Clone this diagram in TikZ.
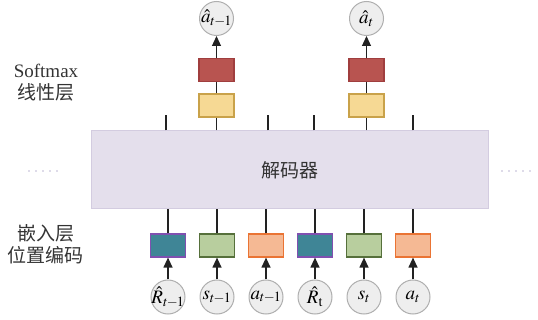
\documentclass[tikz,border=0pt]{standalone}
\usepackage{mathptmx}
\usepackage{fontspec}
\setmainfont{Liberation Serif}
\newfontfamily\cjk{Noto Sans CJK SC}
\usetikzlibrary{arrows.meta}

\definecolor{txt}{HTML}{333333}
\definecolor{decfill}{HTML}{E4DFEC}
\definecolor{decline}{HTML}{D3CCE0}
\definecolor{dotcol}{HTML}{BDB7D3}
\definecolor{circfill}{HTML}{EEEEEE}
\definecolor{circline}{HTML}{AFAFAF}
\definecolor{tealfill}{HTML}{3F8596}
\definecolor{tealline}{HTML}{8050B0}
\definecolor{greenfill}{HTML}{B8CE9E}
\definecolor{greenline}{HTML}{56703B}
\definecolor{orangefill}{HTML}{F5B994}
\definecolor{orangeline}{HTML}{EA7434}
\definecolor{redfill}{HTML}{B85450}
\definecolor{redline}{HTML}{A03E3E}
\definecolor{yellowfill}{HTML}{F6D994}
\definecolor{yellowline}{HTML}{C9A24A}
\definecolor{wire}{HTML}{222222}

% compact subscript for the previous step
\newcommand{\prevstep}{t\mkern-1mu-\mkern-1mu1}

\begin{document}
\begin{tikzpicture}[x=1pt,y=-1pt,
  tok/.style={circle,minimum size=34pt,inner sep=-4pt,fill=circfill,draw=circline,line width=1pt,
    font=\fontsize{19}{19}\selectfont},
  blk/.style={rectangle,minimum width=35pt,minimum height=23pt,inner sep=0pt,line width=1.2pt},
  emb/.style={blk,fill=tealfill,draw=tealline},
  stb/.style={blk,fill=greenfill,draw=greenline},
  act/.style={blk,fill=orangefill,draw=orangeline},
  smx/.style={blk,fill=redfill,draw=redline},
  lin/.style={blk,fill=yellowfill,draw=yellowline},
  side/.style={text=txt,font=\fontsize{19}{19}\selectfont},
  wireline/.style={draw=wire,line width=1.2pt},
  arr/.style={wireline,-{Triangle[width=9pt,length=10pt]}},
  etc/.style={draw=dotcol,line width=1.8pt,line cap=round,dash pattern=on 0pt off 7pt}
]
\useasboundingbox (0,0) rectangle (538,320);

% decoder block
\node[rectangle,minimum width=397pt,minimum height=78pt,inner sep=0pt,fill=decfill,draw=decline,line width=1pt,
  text=txt,font=\cjk\fontsize{19}{19}\selectfont] (dec) at (289.5,170) {解码器};

% continuation dots
\coordinate (dl1) at (29,171); \coordinate (dl2) at (64,171);
\coordinate (dr1) at (502,171); \coordinate (dr2) at (537,171);
\draw[etc] (dl1) -- (dl2);
\draw[etc] (dr1) -- (dr2);

% side labels
\node[side] (sm) at (46,71) {Softmax};
\node[side,font=\cjk\fontsize{19}{19}\selectfont] (ll) at (46,92) {线性层};
\node[side,font=\cjk\fontsize{19}{19}\selectfont] (el) at (46,233) {嵌入层};
\node[side,font=\cjk\fontsize{19}{19}\selectfont] (pe) at (46,255) {位置编码};

% input tokens and embeddings
\foreach \i/\x/\sty/\lab in {1/168/emb/{\hat{R}_{\prevstep}},2/217/stb/{s_{\prevstep}},3/266/act/{a_{\prevstep}},
                             4/315/emb/{\hat{R}_{\mathrm{t}}},5/364/stb/{s_t},6/413/act/{a_t}}{
  \node[tok] (in\i) at (\x,297) {$\lab$};
  \node[\sty] (e\i) at (\x,245.5) {};
  \draw[arr] (in\i) -- (e\i);
  \draw[wireline] (e\i.north) -- (e\i.north |- dec.south);
}

% outputs above the decoder
\foreach \i/\x in {1/166,3/268,4/314,6/413}{
  \coordinate (t\i) at (\x,115);
  \draw[wireline] (dec.north -| t\i) -- (t\i);
}
\node[lin] (y2) at (216.5,105.5) {};
\node[smx] (r2) at (216.5,70) {};
\node[tok] (o2) at (216.5,18.5) {$\hat{a}_{\prevstep}$};
\node[lin] (y5) at (366.5,105.5) {};
\node[smx] (r5) at (366.5,70) {};
\node[tok] (o5) at (366.5,18.5) {$\hat{a}_t$};
\foreach \i in {2,5}{
  \draw[wireline] (dec.north -| y\i) -- (y\i.south);
  \draw[wireline] (y\i) -- (r\i);
  \draw[arr] (r\i) -- (o\i);
}
\end{tikzpicture}
\end{document}
